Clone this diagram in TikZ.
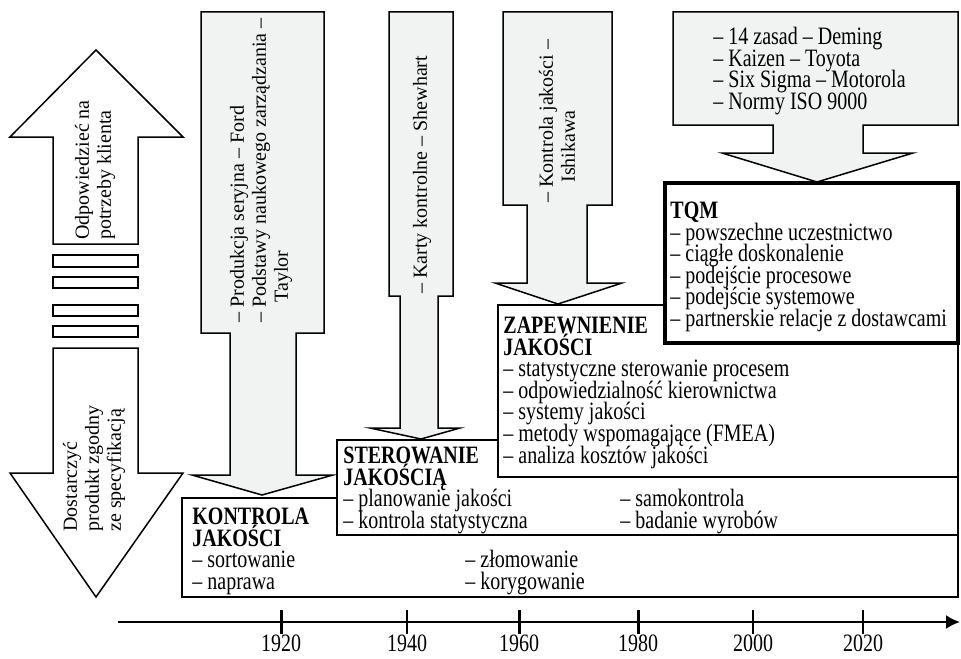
\documentclass[tikz,border=0pt]{standalone}
\usepackage{fontspec}
\setmainfont{Liberation Serif}[FakeStretch=0.8]
\newfontfamily\sidefont{Liberation Serif}
\usepackage{tikz}
\usetikzlibrary{arrows.meta}
\definecolor{ArrowGrey}{HTML}{F1F2F2}
\setlength{\lineskiplimit}{-100pt}
\setlength{\lineskip}{0pt}

\begin{document}
\begin{tikzpicture}[x=0.5pt,y=-0.5pt,>=Latex,
  font=\fontsize{12.5}{10.8}\selectfont,
  outline/.style={draw=black,line width=0.75pt,line join=miter},
  grey arrow/.style={outline,fill=ArrowGrey},
  white arrow/.style={outline,fill=white},
  stage/.style={draw=black,line width=0.9pt,fill=white},
  stage text/.style={anchor=north west,align=left,inner sep=0pt},
  side text/.style={rotate=90,anchor=west,align=left,inner sep=0pt,
    font=\sidefont\fontsize{10}{11}\selectfont}]
  \useasboundingbox (0,0) rectangle (961,658);
  % client arrows on the left
  \draw[white arrow] (96,50)--(183,137)--(138,137)--(138,244)--(53,244)--(53,137)--(10,137)--cycle;
  \foreach \ya/\yb in {255/267,277/288,305/316,326/337}
    \draw[outline,fill=white] (53,\ya) rectangle (138,\yb);
  \draw[white arrow] (53,348)--(138,348)--(138,473)--(183,473)--(96,597)--(10,473)--(53,473)--cycle;
  \node[side text] (client) at (95,240) {Odpowiedzieć na\\potrzeby klienta};
  \node[side text] (spec) at (94,532) {Dostarczyć\\produkt zgodny\\ze specyfikacją};
  % stages, each one drawn over the previous one
  \draw[stage] (182,498) rectangle (958,597);
  \node[stage text] (kontrola) at (192,507.5) {\textbf{KONTROLA}\\ \textbf{JAKOŚCI}\\
    \makebox[136.5pt][l]{– sortowanie}– złomowanie\\
    \makebox[136.5pt][l]{– naprawa}– korygowanie};
  \draw[stage] (337,440) rectangle (958,535);
  \node[stage text] (sterowanie) at (343,446.5) {\textbf{STEROWANIE}\\ \textbf{JAKOŚCIĄ}\\
    \makebox[138.5pt][l]{– planowanie jakości}– samokontrola\\
    \makebox[138.5pt][l]{– kontrola statystyczna}– badanie wyrobów};
  \draw[stage] (498,305) rectangle (958,477);
  \node[stage text] (zapewnienie) at (503,316.5) {\textbf{ZAPEWNIENIE}\\ \textbf{JAKOŚCI}\\
    – statystyczne sterowanie procesem\\
    – odpowiedzialność kierownictwa\\
    – systemy jakości\\
    – metody wspomagające (FMEA)\\
    – analiza kosztów jakości};
  \draw[stage,line width=2pt] (665,183) rectangle (958,343);
  \node[stage text] (tqm) at (670,201.5) {\textbf{TQM}\\
    – powszechne uczestnictwo\\
    – ciągłe doskonalenie\\
    – podejście procesowe\\
    – podejście systemowe\\
    – partnerskie relacje z dostawcami};
  % influences from above
  \draw[grey arrow] (201,12)--(324,12)--(324,333)--(296,333)--(296,475)--(333,475)--(262,495)--(192,475)--(230,475)--(230,333)--(201,333)--cycle;
  \node[side text] (ford) at (261,323) {– Produkcja seryjna – Ford\\– Podstawy naukowego zarządzania –\\\hspace*{1em}Taylor};
  \draw[grey arrow] (389,12)--(453,12)--(453,296)--(438,296)--(438,428)--(460,428)--(421,439)--(370,428)--(400,428)--(400,296)--(389,296)--cycle;
  \node[side text] (shewhart) at (422,294) {– Karty kontrolne – Shewhart};
  \draw[grey arrow] (503,12)--(612,12)--(612,205)--(587,205)--(587,283)--(622,283)--(558,304)--(495,283)--(527,283)--(527,205)--(503,205)--cycle;
  \node[side text] (ishikawa) at (557,203) {– Kontrola jakości –\\\hspace*{1em}Ishikawa};
  \draw[grey arrow] (673,12)--(958,12)--(958,125)--(863,125)--(863,153)--(913,153)--(817,182)--(722,153)--(773,153)--(773,125)--(673,125)--cycle;
  \node[stage text] (deming) at (713,27) {– 14 zasad – Deming\\
    – Kaizen – Toyota\\
    – Six Sigma – Motorola\\
    – Normy ISO 9000};
  % time axis
  \coordinate (axisStart) at (118,622);
  \coordinate (axisEnd) at (960,622);
  \draw[line width=1pt,-{Latex[length=7pt,width=7pt]}] (axisStart) -- (axisEnd);
  \foreach \x/\yr/\lw in {281/1920/1.5pt,407/1940/0.9pt,519/1960/1.5pt,638/1980/1.5pt,753/2000/0.9pt,863/2020/0.9pt}{
    \draw[line width=\lw] (\x,610) -- (\x,634);
    \node[anchor=base,inner sep=0pt] (y\yr) at (\x,651) {\yr};
  }
\end{tikzpicture}
\end{document}
